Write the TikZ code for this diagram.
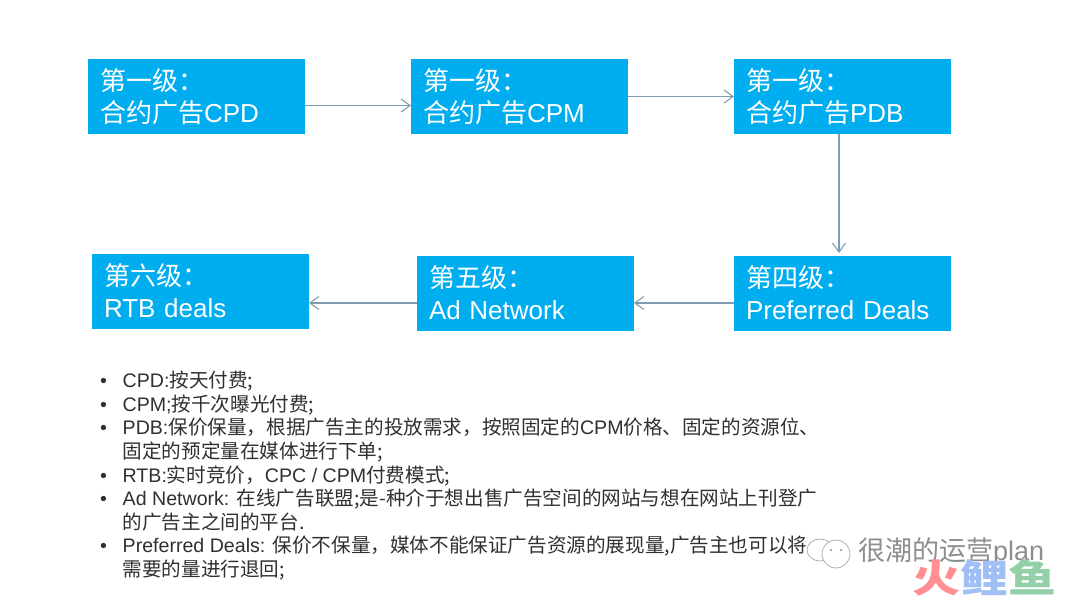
\documentclass[tikz,border=0pt]{standalone}
\usepackage{fontspec}
\usepackage{xcolor}
\setmainfont{Liberation Sans}
\newfontfamily\cjk{Noto Sans CJK SC}
\newcommand{\zh}[1]{{\cjk #1}}
\newcommand{\zhstrut}{\vphantom{\zh{合}}}
\definecolor{levelblue}{HTML}{00ADEF}
\definecolor{linkgrey}{HTML}{7F9DB0}
\definecolor{notetext}{HTML}{303030}
\definecolor{markgrey}{HTML}{8E8E8E}
\definecolor{logored}{HTML}{FF8F93}
\definecolor{logoblue}{HTML}{A0BFF5}
\definecolor{logogreen}{HTML}{93D0A8}
\usetikzlibrary{arrows.meta,positioning}
\tikzset{
  levelbox/.style={
    fill=levelblue,
    text=white,
    align=left,
    outer sep=0pt,
    minimum height=75pt,
    minimum width=217pt,
    inner xsep=12pt,
    inner ysep=0pt,
    text width=193pt,
    font=\fontsize{26}{32}\selectfont
  },
  levellink/.style={-{Straight Barb[length=9pt,width=13pt]},draw=linkgrey,line width=1.1pt},
  notes/.style={anchor=north west,inner sep=0pt,text=notetext,font=\fontsize{19.6}{23.4}\selectfont},
  wmark/.style={text=markgrey,inner sep=0pt,font=\fontsize{27}{30}\selectfont},
  markline/.style={draw=markgrey!70,fill=white,line width=0.8pt}
}
\begin{document}
\begin{tikzpicture}[x=1pt,y=-1pt]
  \useasboundingbox[fill=white] (0,0) rectangle (1080,601);
  \node[levelbox,anchor=north west] (cpd) at (88,59) {\zh{第一级：}\\\zh{合约广告}CPD};
  \node[levelbox,right=106pt of cpd] (cpm) {\zh{第一级：}\\\zh{合约广告}CPM};
  \node[levelbox,right=106pt of cpm] (pdb) {\zh{第一级：}\\\zh{合约广告}PDB};
  \node[levelbox,below=122pt of pdb] (deals) {\zh{第四级：}\\Preferred Deals\zhstrut};
  \node[levelbox,left=100pt of deals] (network) {\zh{第五级：}\\Ad Network\zhstrut};
  \node[levelbox,left=108pt of network,yshift=2pt] (rtb) {\zh{第六级：}\\RTB deals\zhstrut};
  \draw[levellink] ([yshift=-9pt]cpd.east) -- ([yshift=-9pt]cpm.west);
  \draw[levellink] (cpm) -- (pdb);
  \draw[levellink,shorten >=3pt] ([xshift=-3.5pt]pdb.south) -- ([xshift=-3.5pt]deals.north);
  \draw[levellink] ([yshift=-9.5pt]deals.west) -- ([yshift=-9.5pt]network.east);
  \draw[levellink] ([yshift=-9.5pt]network.west) -- ([yshift=-11.5pt]rtb.east);
  \node[notes] (notelist) at (100,371) {%
    \begin{tabular}{@{}p{22.5pt}@{}l@{}}
    • & CPD:\zh{按天付费;}\\
    • & CPM;\zh{按千次曝光付费;}\\
    • & PDB:\zh{保价保量，根据广告主的投放需求，按照固定的}CPM\zh{价格、固定的资源位、}\\
      & \zh{固定的预定量在媒体进行下单;}\\
    • & RTB:\zh{实时竞价，}CPC / CPM\zh{付费模式;}\\
    • & Ad Network: \zh{在线广告联盟;是-种介于想出售广告空间的网站与想在网站上刊登广}\\
      & \zh{的广告主之间的平台.}\\
    • & Preferred Deals: \zh{保价不保量，媒体不能保证广告资源的展现量,广告主也可以将}\\
      & \zh{需要的量进行退回;}
    \end{tabular}};
  % watermark
  \draw[markline] (820,550) ellipse (13pt and 11pt);
  \draw[markline] (836,554) ellipse (14pt and 14pt);
  \fill[markgrey] (831,550) circle (1.2pt) (841,550) circle (1.2pt);
  \node[wmark,anchor=west] (markname) at (858,552) {\zh{很潮的运营}plan};
  \node[anchor=west,inner sep=0pt,font=\fontsize{48}{50}\selectfont] (logo) at (912,578)
    {\scalebox{1}[0.8]{\cjk\bfseries\textcolor{logored}{火}\textcolor{logoblue}{鲤}\textcolor{logogreen}{鱼}}};
\end{tikzpicture}
\end{document}
